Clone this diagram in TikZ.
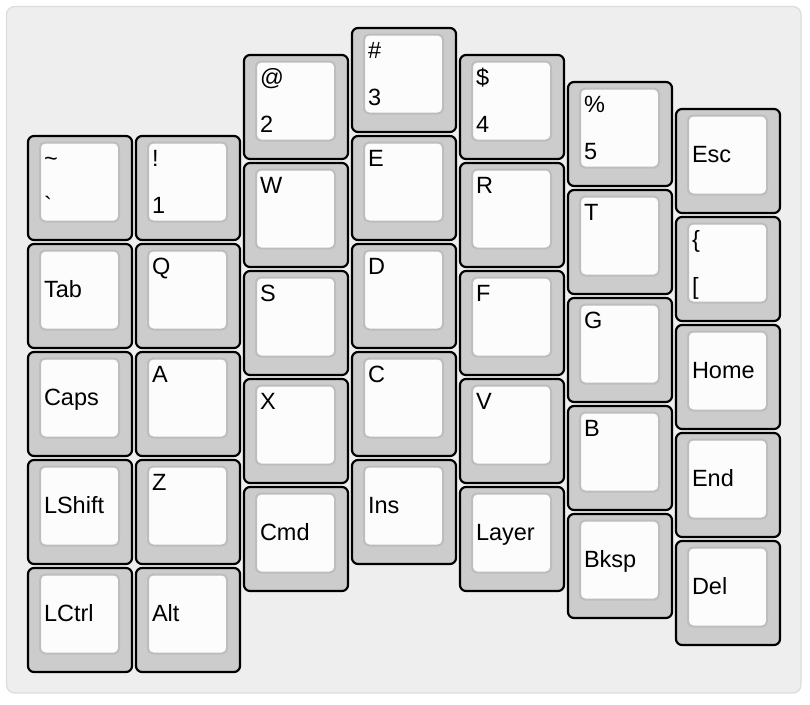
\documentclass[tikz,border=0pt]{standalone}
\usepackage{fontspec}
\setmainfont{Liberation Sans}
\newfontfamily\rawfont{Liberation Sans}
\definecolor{panelfill}{HTML}{EEEEEE}
\definecolor{panelline}{HTML}{DCDCDC}
\definecolor{keyfill}{HTML}{CCCCCC}
\definecolor{capfill}{HTML}{FCFCFC}
\definecolor{capline}{HTML}{BDBDBD}
\tikzset{
  keyouter/.style={draw=black, fill=keyfill, line width=2.2pt, rounded corners=6pt,
    minimum width=104pt, minimum height=104pt, inner sep=0pt},
  keyinner/.style={draw=capline, fill=capfill, line width=2pt, rounded corners=5pt,
    minimum width=79pt, minimum height=79pt, inner sep=0pt},
  lbl/.style={anchor=base west, inner sep=0pt, outer sep=0pt,
    font=\fontsize{23.5}{28}\selectfont, text=black},
  panel/.style={draw=panelline, fill=panelfill, line width=1.2pt, rounded corners=8pt}
}
\newcommand\keybase[3]{%
  \node[keyouter] (#1) at (#2+53,#3+53) {};
  \node[keyinner] (#1cap) at (#2+52.5,#3+47) {};}
\newcommand\keytwo[5]{\keybase{#1}{#2}{#3}%
  \node[lbl] (#1t) at (#2+17,#3+31) {#4};
  \node[lbl] (#1b) at (#2+17,#3+78) {#5};}
\newcommand\keytop[4]{\keybase{#1}{#2}{#3}%
  \node[lbl] (#1t) at (#2+17,#3+31) {#4};}
\newcommand\keymid[4]{\keybase{#1}{#2}{#3}%
  \node[lbl] (#1m) at (#2+17,#3+54.5) {#4};}
\begin{document}
\begin{tikzpicture}[x=1pt,y=-1pt]
\useasboundingbox (0,0) rectangle (810,704);
\draw[panel] (6.5,6.5) rectangle (801,693);
% column 0
\keytwo{kgrave}{27}{135}{\textasciitilde}{{\rawfont\symbol{96}}}
\keymid{ktab}{27}{243}{Tab}
\keymid{kcaps}{27}{351}{Caps}
\keymid{klshift}{27}{459}{LShift}
\keymid{klctrl}{27}{567}{LCtrl}
% column 1
\keytwo{kone}{135}{135}{!}{1}
\keytop{kq}{135}{243}{Q}
\keytop{ka}{135}{351}{A}
\keytop{kz}{135}{459}{Z}
\keymid{kalt}{135}{567}{Alt}
% column 2
\keytwo{ktwo}{243}{54}{@}{2}
\keytop{kw}{243}{162}{W}
\keytop{ks}{243}{270}{S}
\keytop{kx}{243}{378}{X}
\keymid{kcmd}{243}{486}{Cmd}
% column 3
\keytwo{kthree}{351}{27}{\#}{3}
\keytop{ke}{351}{135}{E}
\keytop{kd}{351}{243}{D}
\keytop{kc}{351}{351}{C}
\keymid{kins}{351}{459}{Ins}
% column 4
\keytwo{kfour}{459}{54}{\$}{4}
\keytop{kr}{459}{162}{R}
\keytop{kf}{459}{270}{F}
\keytop{kv}{459}{378}{V}
\keymid{klayer}{459}{486}{Layer}
% column 5
\keytwo{kfive}{567}{81}{\%}{5}
\keytop{kt}{567}{189}{T}
\keytop{kg}{567}{297}{G}
\keytop{kb}{567}{405}{B}
\keymid{kbksp}{567}{513}{Bksp}
% column 6
\keymid{kesc}{675}{108}{Esc}
\keytwo{kbrace}{675}{216}{\{}{[}
\keymid{khome}{675}{324}{Home}
\keymid{kend}{675}{432}{End}
\keymid{kdel}{675}{540}{Del}
\end{tikzpicture}
\end{document}
